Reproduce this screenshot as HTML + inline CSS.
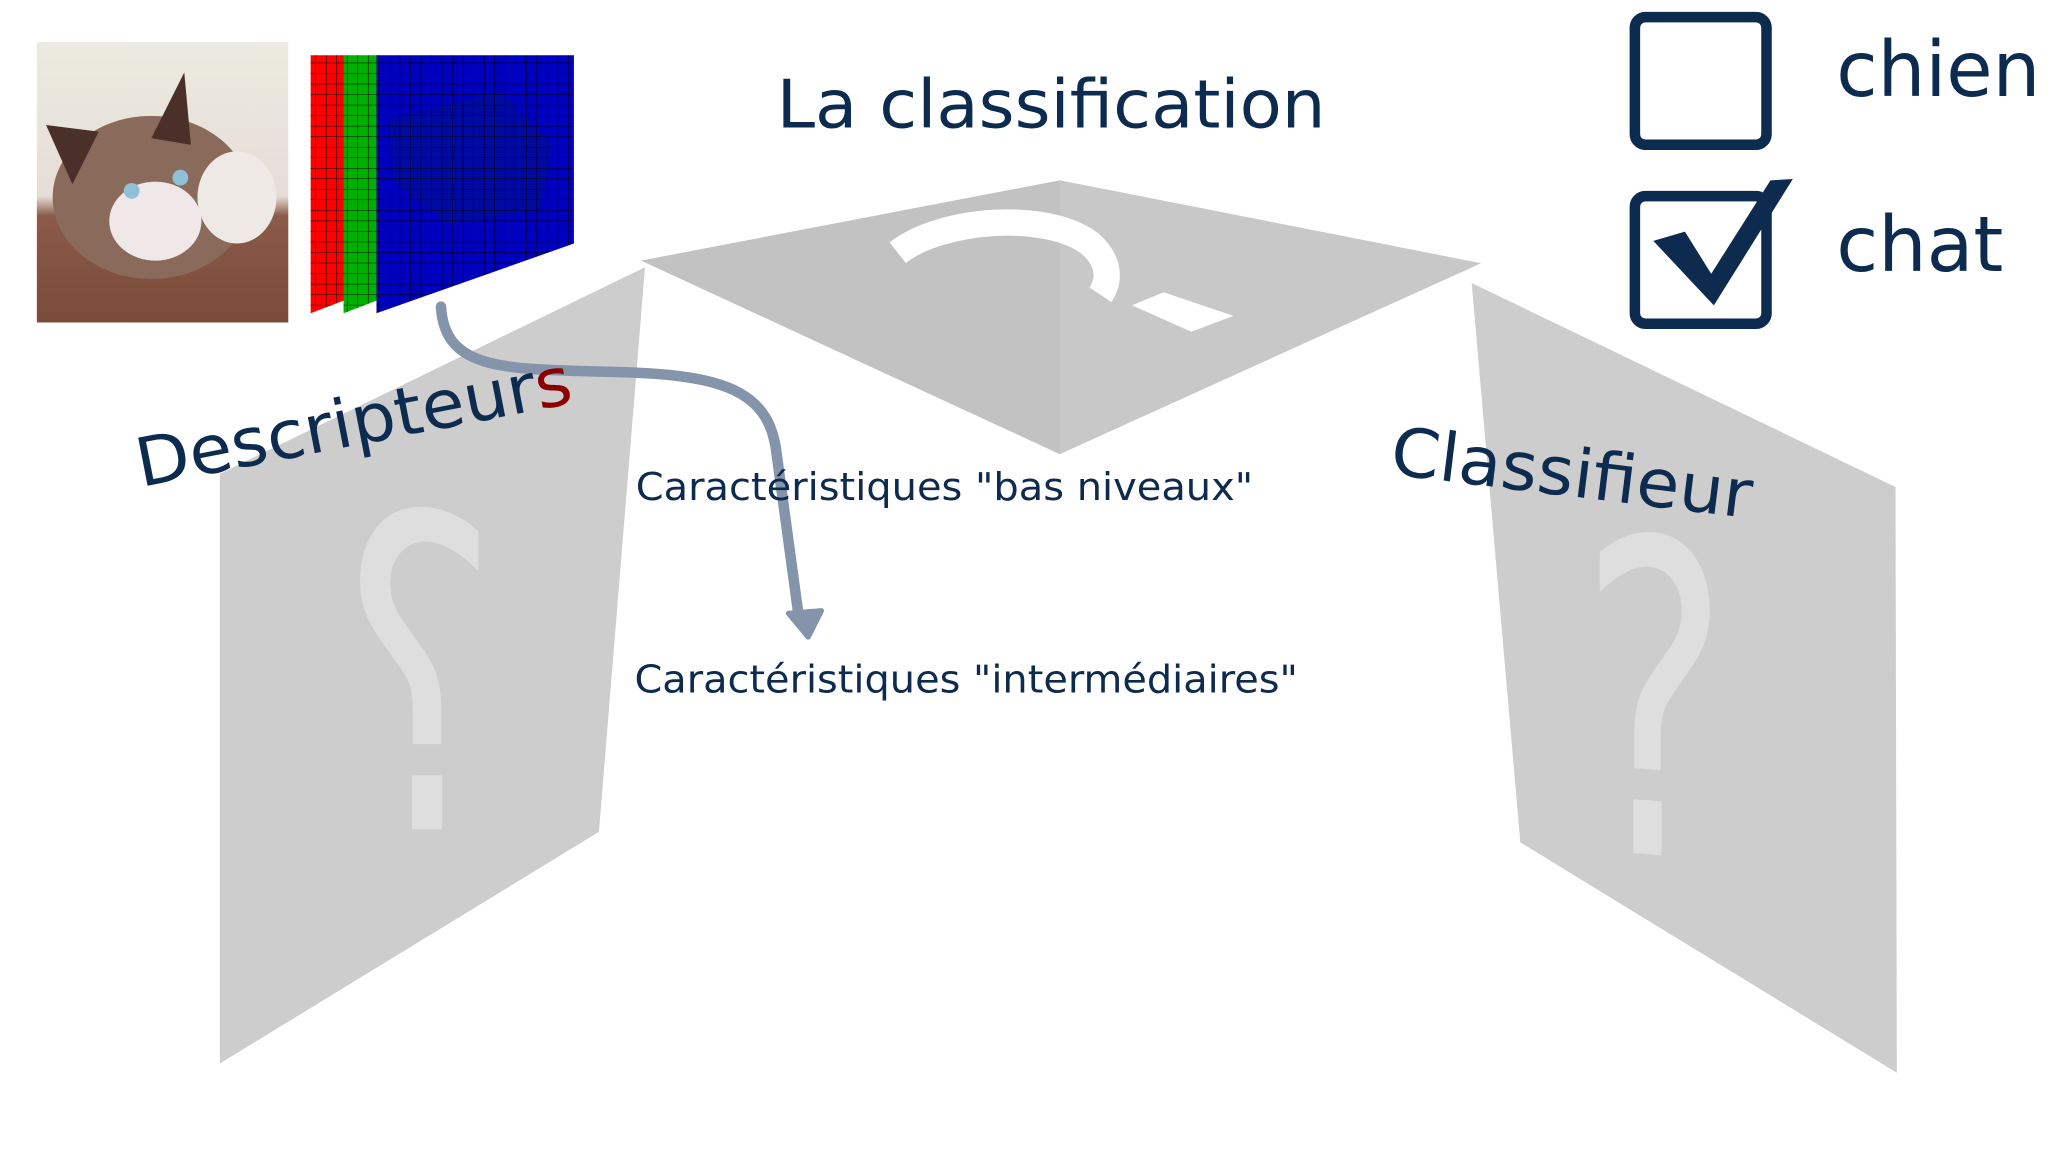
<!DOCTYPE html>
<html><head><meta charset="utf-8"><style>html,body{margin:0;padding:0;background:#fff;}svg{display:block}</style></head>
<body>
<svg width="2064" height="1155" viewBox="0 0 1568 877.5" preserveAspectRatio="none" xmlns="http://www.w3.org/2000/svg" font-family="'DejaVu Sans','Liberation Sans',sans-serif">
<defs>
<linearGradient id="bg" x1="0" y1="0" x2="0" y2="1">
<stop offset="0" stop-color="#ecebe0"/><stop offset="0.55" stop-color="#e6ddd6"/><stop offset="0.62" stop-color="#8b5a48"/><stop offset="1" stop-color="#7a4b3a"/></linearGradient>
<pattern id="grid" width="8" height="8" patternUnits="userSpaceOnUse"><path d="M8 0V8H0" fill="none" stroke="#000" stroke-width="0.8"/></pattern>
</defs>
<polygon points="167,360 490,203 455,632 167,808" fill="#cdcdcd"/>
<polygon points="487,198 805,137 1125,200 805,345" fill="#c2c2c2"/>
<polygon points="805,137 1125,200 805,345" fill="#c8c8c8"/>
<polygon points="1118,215 1440,370 1441,815 1155,640" fill="#cdcdcd"/>
<path d="M682,192 C715,166 795,160 828,185 C845,200 842,215 836,224" fill="none" stroke="#fff" stroke-width="20"/>
<polygon points="860,232 884,222 937,240 905,252" fill="#fff"/>
<text x="0" y="0" font-size="330" fill="#dedede" transform="matrix(-0.7,0,0,1,380,630)">?</text>
<text x="0" y="0" font-size="330" fill="#dedede" transform="matrix(0.65,0.05,0,1,1200,645)">?</text>
<rect x="28" y="32" width="191" height="213" fill="url(#bg)"/>
<ellipse cx="115" cy="150" rx="75" ry="62" fill="#8a6a5a"/>
<ellipse cx="118" cy="168" rx="35" ry="30" fill="#f0e8e8"/>
<polygon points="35,95 75,100 55,140" fill="#4a3028"/>
<polygon points="140,55 115,105 145,110" fill="#4a3028"/>
<ellipse cx="180" cy="150" rx="30" ry="35" fill="#efe9e6"/>
<circle cx="100" cy="145" r="6" fill="#8fc0d8"/><circle cx="137" cy="135" r="6" fill="#8fc0d8"/>
<polygon points="236,42 262,42 262,228 236,238" fill="#ff0000"/>
<polygon points="236,42 262,42 262,228 236,238" fill="url(#grid)"/>
<polygon points="261,42 287,42 287,228 261,238" fill="#00b000"/>
<polygon points="261,42 287,42 287,228 261,238" fill="url(#grid)"/>
<polygon points="286,42 436,42 436,185 286,238" fill="#0000c0"/>
<polygon points="295,90 340,80 380,70 420,110 410,160 340,170 300,140" fill="#001090" opacity="0.6"/>
<polygon points="286,42 436,42 436,185 286,238" fill="url(#grid)"/>
<path d="M335,233 C338,285 390,280 480,283 C555,286 585,300 590,345 L607,470" fill="none" stroke="#8494aa" stroke-width="8" stroke-linecap="round"/>
<polygon points="599,466 624,464 614,484" fill="#8494aa" stroke="#8494aa" stroke-width="4" stroke-linejoin="round"/>
<text x="590" y="97" font-size="51" fill="#0d2a4f" textLength="417" lengthAdjust="spacingAndGlyphs">La classification</text>
<text x="0" y="0" font-size="51" fill="#0d2a4f" transform="translate(107,370) rotate(-11)" textLength="336" lengthAdjust="spacingAndGlyphs">Descripteur<tspan fill="#8b0000">s</tspan></text>
<text x="0" y="0" font-size="51" fill="#0d2a4f" transform="translate(1055,360) rotate(7)" textLength="276" lengthAdjust="spacingAndGlyphs">Classifieur</text>
<text x="483" y="380" font-size="29" fill="#0d2a4f" textLength="469" lengthAdjust="spacingAndGlyphs">Caractéristiques "bas niveaux"</text>
<text x="482" y="526" font-size="29" fill="#0d2a4f" textLength="504" lengthAdjust="spacingAndGlyphs">Caractéristiques "intermédiaires"</text>
<rect x="1242" y="13" width="100" height="97" rx="8" fill="none" stroke="#0d2a4f" stroke-width="8"/>
<rect x="1242" y="149" width="100" height="97" rx="8" fill="none" stroke="#0d2a4f" stroke-width="8"/>
<path d="M1256,183 L1280,176 L1300,208 L1345,137 L1362,136 L1302,232 Z" fill="#0d2a4f"/>
<text x="1395" y="73" font-size="58" fill="#0d2a4f" textLength="155" lengthAdjust="spacingAndGlyphs">chien</text>
<text x="1395" y="206" font-size="58" fill="#0d2a4f">chat</text>
</svg>
</body></html>
